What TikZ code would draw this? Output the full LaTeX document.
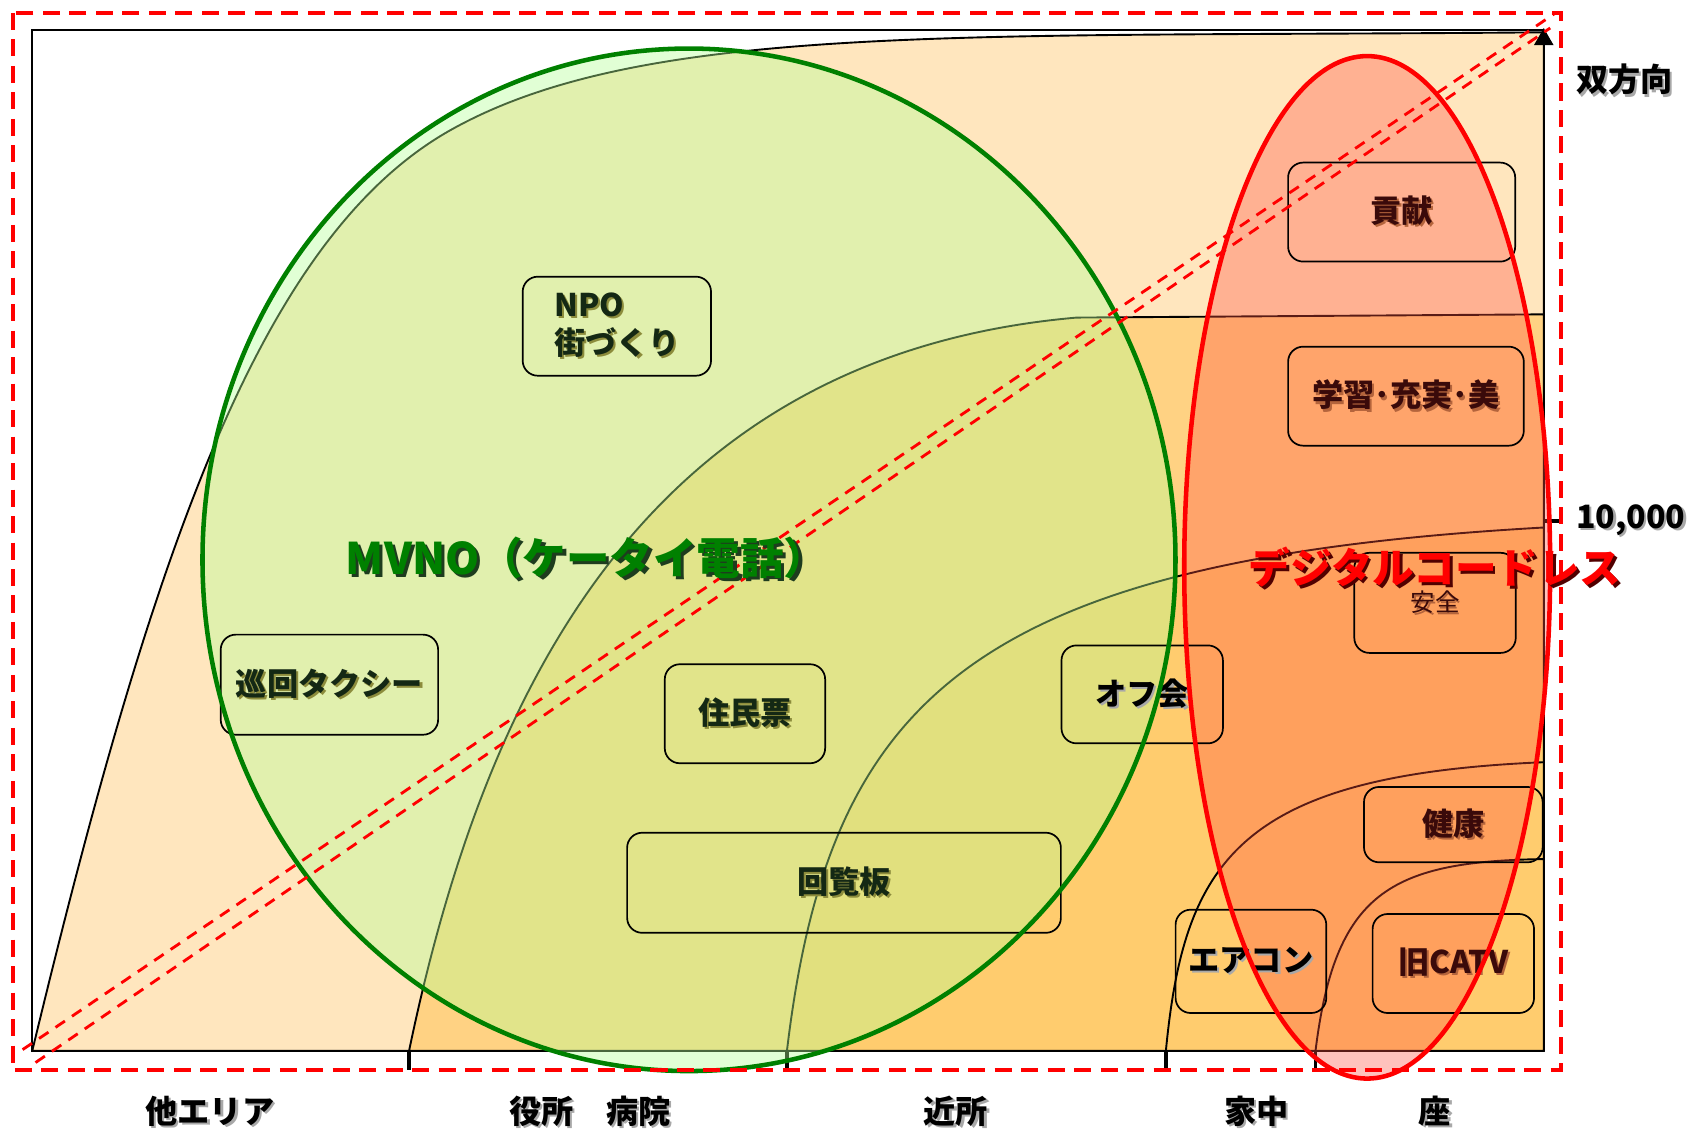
\documentclass[tikz,border=0pt]{standalone}
\usepackage{fontspec}
\setmainfont{Noto Sans CJK JP}
\usetikzlibrary{arrows.meta}
\definecolor{areaA}{HTML}{FFE6BE}
\definecolor{areaB}{HTML}{FFD283}
\definecolor{areaC}{HTML}{FFCC6E}
\definecolor{mvnogreen}{HTML}{008000}
\definecolor{mvnofill}{HTML}{B4FF96}
\definecolor{dectfill}{HTML}{FF5040}
\definecolor{greentxt}{HTML}{142814}
\definecolor{redtxt}{HTML}{3A0A0A}
\definecolor{olivesh}{HTML}{8C8C3C}
\definecolor{brownsh}{HTML}{B4643C}
\definecolor{graysh}{HTML}{A8A8A8}
\definecolor{mvnosh}{HTML}{1E3C1E}
\definecolor{dectsh}{HTML}{500000}
\newcommand{\shad}[2]{\leavevmode\rlap{\kern0.07em\raisebox{-0.07em}{\textcolor{#1}{#2}}}#2}
\tikzset{
  area/.style={draw=black, line width=1pt},
  dashred/.style={red, line width=1.5pt, dash pattern=on 6pt off 4.5pt},
  dashframe/.style={red, line width=1.8pt, dash pattern=on 9pt off 5pt},
  usebox/.style={draw=black, line width=0.9pt, rounded corners=0.28cm, inner sep=0pt,
    font=\fontsize{16.5}{20}\selectfont\bfseries},
  axislabel/.style={font=\fontsize{17}{20}\selectfont\bfseries}
}

\begin{document}
\begin{tikzpicture}[x=0.02cm, y=-0.02cm]
  \useasboundingbox (0,0) rectangle (1568,1052);
  % areas, outermost first
  \filldraw[area, fill=areaA] (30,976) .. controls (140,520) and (240,220) .. (420,120)
    .. controls (600,20) and (900,35) .. (1434,30) -- (1434,976) -- cycle;
  \filldraw[area, fill=areaB] (380,976) .. controls (450,640) and (600,330) .. (1000,295)
    -- (1434,292) -- (1434,976) -- cycle;
  \filldraw[area, fill=areaC] (731,976) .. controls (770,650) and (900,520) .. (1434,490)
    -- (1434,976) -- cycle;
  \filldraw[area, fill=areaC] (1083,976) .. controls (1100,800) and (1150,720) .. (1434,708)
    -- (1434,976) -- cycle;
  \filldraw[area, fill=areaC] (1222,976) .. controls (1240,830) and (1290,800) .. (1434,798)
    -- (1434,976) -- cycle;

  % frame and axes
  \draw[line width=1.2pt] (1434,976) -- (30,976) -- (30,28) -- (1434,28);
  \draw[line width=1.2pt, -{Triangle[width=10pt,length=9pt]}] (1434,976) -- (1434,26);
  \draw[line width=2pt] (380,976) -- (380,994);
  \draw[line width=2pt] (731,976) -- (731,994);
  \draw[line width=2pt] (1083,976) -- (1083,994);
  \draw[line width=2pt] (1222,976) -- (1222,994);
  \draw[line width=2pt] (1434,484) -- (1450,484);

  % MVNO and cordless ranges, fill
  \fill[mvnofill, fill opacity=0.4] (640,520) ellipse [x radius=9.04cm, y radius=9.5cm];
  \fill[dectfill, fill opacity=0.35] (1270,527) ellipse [x radius=3.4cm, y radius=9.5cm];

  % uses
  \node[usebox, minimum width=3.5cm, minimum height=1.84cm, text=greentxt, align=left] (npo) at (573,303)
    {\shad{olivesh}{NPO}\\\shad{olivesh}{街づくり}};
  \node[usebox, minimum width=4.04cm, minimum height=1.86cm, text=greentxt] (taxi) at (306,636)
    {\shad{olivesh}{巡回タクシー}};
  \node[usebox, minimum width=2.98cm, minimum height=1.84cm, text=greentxt] (jumin) at (692,663)
    {\shad{olivesh}{住民票}};
  \node[usebox, minimum width=8.06cm, minimum height=1.86cm, text=greentxt] (kairan) at (784,820)
    {\shad{olivesh}{回覧板}};
  \node[usebox, minimum width=3.0cm, minimum height=1.82cm] (offkai) at (1061,645)
    {\shad{graysh}{オフ会}};
  \node[usebox, minimum width=4.22cm, minimum height=1.84cm, text=redtxt] (kouken) at (1302,197)
    {\shad{brownsh}{貢献}};
  \node[usebox, minimum width=4.38cm, minimum height=1.84cm, text=redtxt] (gakushu) at (1306,368)
    {\shad{brownsh}{学習･充実･美}};
  \node[usebox, minimum width=3.0cm, minimum height=1.86cm, text=redtxt,
    font=\fontsize{13}{16}\selectfont] (anzen) at (1333,560) {\shad{brownsh}{安全}};
  \node[usebox, minimum width=3.32cm, minimum height=1.4cm, text=redtxt] (kenkou) at (1350,766)
    {\shad{brownsh}{健康}};
  \node[usebox, minimum width=2.8cm, minimum height=1.92cm] (aircon) at (1162,893)
    {\shad{graysh}{エアコン}};
  \node[usebox, minimum width=3.0cm, minimum height=1.84cm, text=redtxt] (catv) at (1350,895)
    {\shad{brownsh}{旧CATV}};

  % MVNO and cordless ranges, outline
  \draw[mvnogreen, line width=2.4pt] (640,520) ellipse [x radius=9.04cm, y radius=9.5cm];
  \draw[red, line width=2.4pt] (1270,527) ellipse [x radius=3.4cm, y radius=9.5cm];

  % dashed lines
  \draw[dashred] (21,975) -- (1445,12);
  \draw[dashred] (33,987) -- (1440,26);
  \draw[dashframe] (12,12) rectangle (1450,994);

  \node[text=mvnogreen, font=\fontsize{23}{26}\selectfont\bfseries] (mvno) at (545,520)
    {\shad{mvnosh}{MVNO（ケータイ電話）}};
  \node[text=red, font=\fontsize{22}{26}\selectfont\bfseries] (dect) at (1333,528)
    {\shad{dectsh}{デジタルコードレス}};

  % axis labels
  \node[axislabel, anchor=west] (bidir) at (1458,75) {\shad{graysh}{双方向}};
  \node[axislabel, anchor=west] (tenk) at (1458,484) {\shad{graysh}{10,000}};
  \node[axislabel] (other) at (195,1033) {\shad{graysh}{他エリア}};
  \node[axislabel] (office) at (548,1033) {\shad{graysh}{役所　病院}};
  \node[axislabel] (near) at (888,1033) {\shad{graysh}{近所}};
  \node[axislabel] (home) at (1167,1033) {\shad{graysh}{家中}};
  \node[axislabel] (seat) at (1333,1033) {\shad{graysh}{座}};
\end{tikzpicture}
\end{document}
